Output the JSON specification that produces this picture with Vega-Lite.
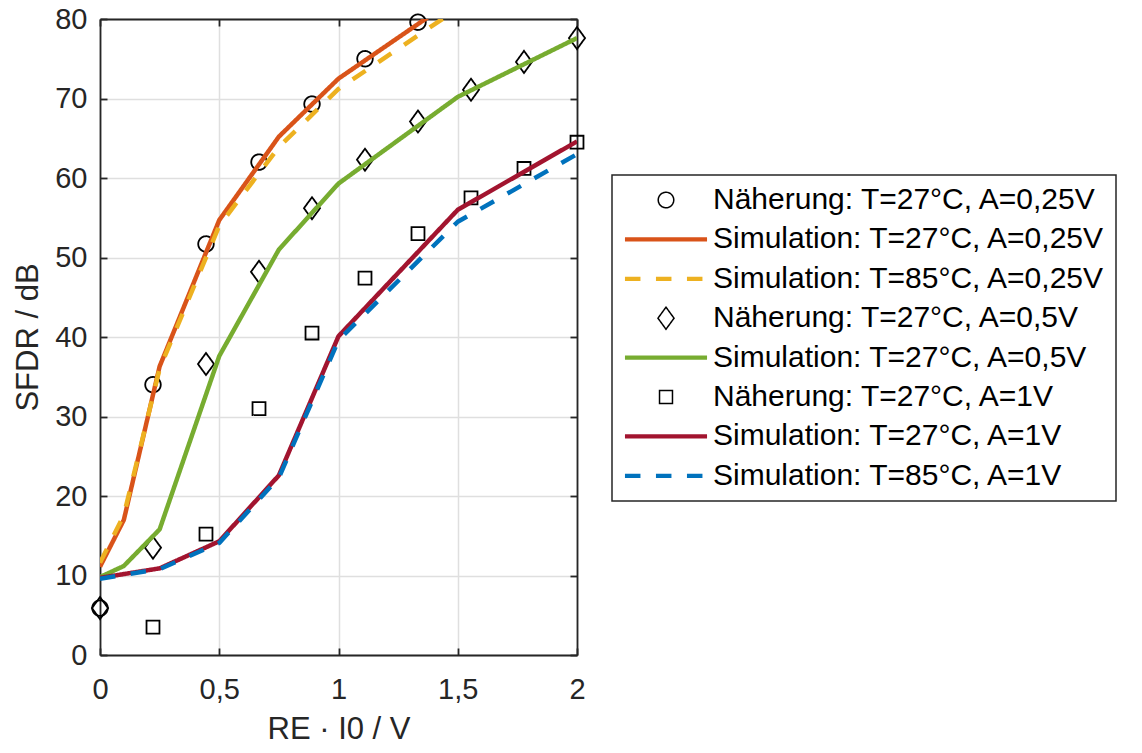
{
  "$schema": "https://vega.github.io/schema/vega-lite/v6.json",
  "width": 477,
  "height": 636,
  "autosize": "none",
  "padding": {"left": 100, "top": 19, "right": 565, "bottom": 98},
  "background": "white",
  "config": {
    "view": {"stroke": null},
    "font": "Liberation Sans",
    "axis": {
      "domainColor": "#262626",
      "domainWidth": 1.8,
      "tickColor": "#262626",
      "tickWidth": 1.8,
      "tickSize": -7,
      "labelColor": "#262626",
      "labelFont": "Liberation Sans",
      "labelFontSize": 29,
      "labelFlush": false,
      "labelOverlap": false,
      "titleColor": "#262626",
      "titleFont": "Liberation Sans",
      "titleFontSize": 31,
      "titleFontWeight": "normal",
      "gridColor": "#DFDFDF",
      "gridWidth": 1.5
    },
    "legend": {
      "orient": "none",
      "legendX": 512,
      "legendY": 156,
      "padding": 10,
      "rowPadding": 9.4,
      "strokeColor": "#262626",
      "strokeWidth": 1.5,
      "fillColor": "white",
      "labelFont": "Liberation Sans",
      "labelFontSize": 30,
      "labelColor": "black",
      "labelLimit": 900,
      "symbolOffset": 29,
      "labelOffset": 32,
      "symbolSize": 576
    }
  },
  "datasets": {
    "naeherung": [
      {"series": "Näherung: T=27°C, A=0,25V", "x": 0, "y": 5.9},
      {"series": "Näherung: T=27°C, A=0,25V", "x": 0.2222, "y": 34.0},
      {"series": "Näherung: T=27°C, A=0,25V", "x": 0.4444, "y": 51.7},
      {"series": "Näherung: T=27°C, A=0,25V", "x": 0.6667, "y": 62.0},
      {"series": "Näherung: T=27°C, A=0,25V", "x": 0.8889, "y": 69.3},
      {"series": "Näherung: T=27°C, A=0,25V", "x": 1.1111, "y": 75.0},
      {"series": "Näherung: T=27°C, A=0,25V", "x": 1.3333, "y": 79.6},
      {"series": "Näherung: T=27°C, A=0,5V", "x": 0, "y": 5.9},
      {"series": "Näherung: T=27°C, A=0,5V", "x": 0.2222, "y": 13.5},
      {"series": "Näherung: T=27°C, A=0,5V", "x": 0.4444, "y": 36.6},
      {"series": "Näherung: T=27°C, A=0,5V", "x": 0.6667, "y": 48.2},
      {"series": "Näherung: T=27°C, A=0,5V", "x": 0.8889, "y": 56.2},
      {"series": "Näherung: T=27°C, A=0,5V", "x": 1.1111, "y": 62.3},
      {"series": "Näherung: T=27°C, A=0,5V", "x": 1.3333, "y": 67.1},
      {"series": "Näherung: T=27°C, A=0,5V", "x": 1.5556, "y": 71.1},
      {"series": "Näherung: T=27°C, A=0,5V", "x": 1.7778, "y": 74.6},
      {"series": "Näherung: T=27°C, A=0,5V", "x": 2, "y": 77.6},
      {"series": "Näherung: T=27°C, A=1V", "x": 0.2222, "y": 3.5},
      {"series": "Näherung: T=27°C, A=1V", "x": 0.4444, "y": 15.2},
      {"series": "Näherung: T=27°C, A=1V", "x": 0.6667, "y": 31.0},
      {"series": "Näherung: T=27°C, A=1V", "x": 0.8889, "y": 40.5},
      {"series": "Näherung: T=27°C, A=1V", "x": 1.1111, "y": 47.4},
      {"series": "Näherung: T=27°C, A=1V", "x": 1.3333, "y": 53.0},
      {"series": "Näherung: T=27°C, A=1V", "x": 1.5556, "y": 57.5},
      {"series": "Näherung: T=27°C, A=1V", "x": 1.7778, "y": 61.2},
      {"series": "Näherung: T=27°C, A=1V", "x": 2, "y": 64.5}
    ],
    "simulation": [
      {"series": "Simulation: T=27°C, A=0,25V", "x": 0, "y": 11.1},
      {"series": "Simulation: T=27°C, A=0,25V", "x": 0.1, "y": 17.0},
      {"series": "Simulation: T=27°C, A=0,25V", "x": 0.25, "y": 36.3},
      {"series": "Simulation: T=27°C, A=0,25V", "x": 0.5, "y": 54.7},
      {"series": "Simulation: T=27°C, A=0,25V", "x": 0.75, "y": 65.2},
      {"series": "Simulation: T=27°C, A=0,25V", "x": 1, "y": 72.5},
      {"series": "Simulation: T=27°C, A=0,25V", "x": 1.5, "y": 82.8},
      {"series": "Simulation: T=85°C, A=0,25V", "x": 0, "y": 11.6},
      {"series": "Simulation: T=85°C, A=0,25V", "x": 0.1, "y": 17.6},
      {"series": "Simulation: T=85°C, A=0,25V", "x": 0.25, "y": 36.0},
      {"series": "Simulation: T=85°C, A=0,25V", "x": 0.5, "y": 54.0},
      {"series": "Simulation: T=85°C, A=0,25V", "x": 0.75, "y": 63.9},
      {"series": "Simulation: T=85°C, A=0,25V", "x": 1, "y": 71.2},
      {"series": "Simulation: T=85°C, A=0,25V", "x": 1.5, "y": 81.3},
      {"series": "Simulation: T=27°C, A=0,5V", "x": 0, "y": 9.8},
      {"series": "Simulation: T=27°C, A=0,5V", "x": 0.1, "y": 11.2},
      {"series": "Simulation: T=27°C, A=0,5V", "x": 0.25, "y": 15.8},
      {"series": "Simulation: T=27°C, A=0,5V", "x": 0.5, "y": 37.6},
      {"series": "Simulation: T=27°C, A=0,5V", "x": 0.75, "y": 51.0},
      {"series": "Simulation: T=27°C, A=0,5V", "x": 1, "y": 59.3},
      {"series": "Simulation: T=27°C, A=0,5V", "x": 1.5, "y": 70.2},
      {"series": "Simulation: T=27°C, A=0,5V", "x": 2, "y": 77.6},
      {"series": "Simulation: T=27°C, A=1V", "x": 0, "y": 9.7},
      {"series": "Simulation: T=27°C, A=1V", "x": 0.25, "y": 10.9},
      {"series": "Simulation: T=27°C, A=1V", "x": 0.5, "y": 14.3},
      {"series": "Simulation: T=27°C, A=1V", "x": 0.75, "y": 22.6},
      {"series": "Simulation: T=27°C, A=1V", "x": 1, "y": 40.1},
      {"series": "Simulation: T=27°C, A=1V", "x": 1.5, "y": 56.0},
      {"series": "Simulation: T=27°C, A=1V", "x": 2, "y": 64.6},
      {"series": "Simulation: T=85°C, A=1V", "x": 0, "y": 9.6},
      {"series": "Simulation: T=85°C, A=1V", "x": 0.25, "y": 10.8},
      {"series": "Simulation: T=85°C, A=1V", "x": 0.5, "y": 14.1},
      {"series": "Simulation: T=85°C, A=1V", "x": 0.75, "y": 22.3},
      {"series": "Simulation: T=85°C, A=1V", "x": 1, "y": 39.6},
      {"series": "Simulation: T=85°C, A=1V", "x": 1.5, "y": 54.5},
      {"series": "Simulation: T=85°C, A=1V", "x": 2, "y": 63.0}
    ]
  },
  "layer": [
    {
      "data": {"name": "naeherung"},
      "mark": {"type": "point", "filled": false, "opacity": 1, "size": 576, "strokeWidth": 1.8},
      "encoding": {
        "x": {
          "field": "x", "type": "quantitative",
          "scale": {"domain": [0, 2], "nice": false, "zero": false},
          "axis": {
            "orient": "bottom", "values": [0, 0.5, 1, 1.5, 2], "grid": true,
            "labelExpr": "replace(toString(datum.value), '.', ',')",
            "labelBaseline": "alphabetic", "labelPadding": 50,
            "title": "RE · I0 / V", "titleX": 238.5, "titleY": 83,
            "titleBaseline": "alphabetic", "titleAlign": "center"
          }
        },
        "y": {
          "field": "y", "type": "quantitative",
          "scale": {"domain": [0, 80], "nice": false, "zero": false},
          "axis": {
            "orient": "left", "values": [0, 10, 20, 30, 40, 50, 60, 70, 80], "grid": true,
            "labelPadding": 20,
            "title": "SFDR / dB", "titleX": -63, "titleY": 318, "titleAngle": -90,
            "titleBaseline": "alphabetic", "titleAlign": "center"
          }
        },
        "color": {
          "field": "series", "type": "nominal",
          "scale": {
            "domain": ["Näherung: T=27°C, A=0,25V", "Simulation: T=27°C, A=0,25V", "Simulation: T=85°C, A=0,25V", "Näherung: T=27°C, A=0,5V", "Simulation: T=27°C, A=0,5V", "Näherung: T=27°C, A=1V", "Simulation: T=27°C, A=1V", "Simulation: T=85°C, A=1V"],
            "range": ["#000000", "#D95319", "#EDB120", "#000000", "#77AC30", "#000000", "#A2142F", "#0072BD"]
          },
          "legend": {"title": null}
        },
        "shape": {
          "field": "series", "type": "nominal",
          "scale": {
            "domain": ["Näherung: T=27°C, A=0,25V", "Simulation: T=27°C, A=0,25V", "Simulation: T=85°C, A=0,25V", "Näherung: T=27°C, A=0,5V", "Simulation: T=27°C, A=0,5V", "Näherung: T=27°C, A=1V", "Simulation: T=27°C, A=1V", "Simulation: T=85°C, A=1V"],
            "range": [
              "M0.65,0L0.628,0.168L0.563,0.325L0.46,0.46L0.325,0.563L0.168,0.628L0,0.65L-0.168,0.628L-0.325,0.563L-0.46,0.46L-0.563,0.325L-0.628,0.168L-0.65,0L-0.628,-0.168L-0.563,-0.325L-0.46,-0.46L-0.325,-0.563L-0.168,-0.628L0,-0.65L0.168,-0.628L0.325,-0.563L0.46,-0.46L0.563,-0.325L0.628,-0.168Z",
              "M-3.42,-0.1125L3.42,-0.1125M-3.42,0L3.42,0M-3.42,0.1125L3.42,0.1125",
              "M-3.42,-0.1125L3.42,-0.1125M-3.42,0L3.42,0M-3.42,0.1125L3.42,0.1125",
              "M0,-0.92L0.67,0L0,0.92L-0.67,0Z",
              "M-3.42,-0.1125L3.42,-0.1125M-3.42,0L3.42,0M-3.42,0.1125L3.42,0.1125",
              "M-0.54,-0.54L0.54,-0.54L0.54,0.54L-0.54,0.54Z",
              "M-3.42,-0.1125L3.42,-0.1125M-3.42,0L3.42,0M-3.42,0.1125L3.42,0.1125",
              "M-3.42,-0.1125L3.42,-0.1125M-3.42,0L3.42,0M-3.42,0.1125L3.42,0.1125"
            ]
          },
          "legend": {"title": null}
        },
        "strokeDash": {
          "field": "series", "type": "nominal",
          "scale": {
            "domain": ["Näherung: T=27°C, A=0,25V", "Simulation: T=27°C, A=0,25V", "Simulation: T=85°C, A=0,25V", "Näherung: T=27°C, A=0,5V", "Simulation: T=27°C, A=0,5V", "Näherung: T=27°C, A=1V", "Simulation: T=27°C, A=1V", "Simulation: T=85°C, A=1V"],
            "range": [[1, 0], [1, 0], [15.5, 15.5], [1, 0], [1, 0], [1, 0], [1, 0], [15.5, 15.5]]
          },
          "legend": {"title": null}
        }
      }
    },
    {
      "data": {"name": "simulation"},
      "mark": {"type": "line", "clip": true, "strokeWidth": 4.5, "strokeCap": "butt", "strokeJoin": "round"},
      "encoding": {
        "x": {
          "field": "x", "type": "quantitative",
          "axis": {"orient": "top", "values": [0, 0.5, 1, 1.5, 2], "labels": false, "grid": false, "title": null}
        },
        "y": {
          "field": "y", "type": "quantitative",
          "axis": {"orient": "right", "values": [0, 10, 20, 30, 40, 50, 60, 70, 80], "labels": false, "grid": false, "title": null}
        },
        "color": {"field": "series", "type": "nominal", "legend": null},
        "strokeDash": {"field": "series", "type": "nominal", "legend": null}
      }
    }
  ],
  "resolve": {"axis": {"x": "independent", "y": "independent"}}
}
